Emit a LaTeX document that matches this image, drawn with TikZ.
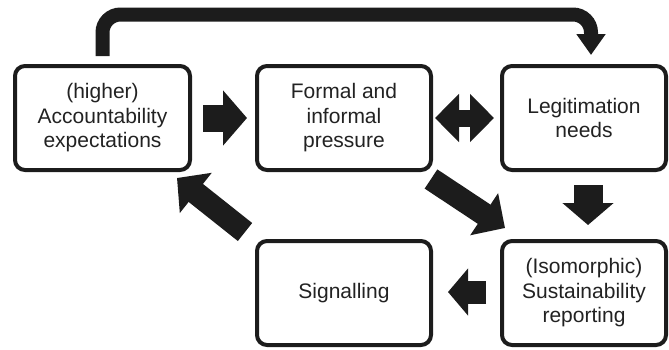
\documentclass[tikz,border=0pt]{standalone}
\usepackage{fontspec}
\setmainfont{Liberation Sans}
\usetikzlibrary{arrows.meta,calc}
\definecolor{ink}{HTML}{1C1C1C}
\definecolor{txt}{HTML}{222222}
\begin{document}
\begin{tikzpicture}[x=1pt,y=-1pt,
  box/.style={draw=ink, line width=4pt, rounded corners=10pt, align=center,
    font=\fontsize{21}{24.5}\selectfont, inner sep=0pt, text=txt},
  toprow/.style={minimum height=104pt},
  blk/.style n args={3}{draw=ink, line width=#1, -{Triangle[width=#2,length=#3]}},
  dblk/.style n args={3}{draw=ink, line width=#1, {Triangle[width=#2,length=#3]}-{Triangle[width=#2,length=#3]}},
  toparrow/.style={draw=ink, line width=14pt, rounded corners=18pt, -{Triangle[width=28pt,length=21pt]}}]
\useasboundingbox (0,0) rectangle (669,349);

\node[box, minimum width=175pt, minimum height=104pt] (b1) at (102.5,118) {(higher)\\Accountability\\expectations};
\node[box, minimum width=174pt, minimum height=104pt] (b2) at (344,118) {Formal and\\informal\\pressure};
\node[box, minimum width=164pt, minimum height=104pt] (b3) at (584,118) {Legitimation\\needs};
\node[box, minimum width=174pt, minimum height=104pt] (b4) at (344,293) {Signalling};
\node[box, minimum width=164pt, minimum height=104pt] (b5) at (584,293) {(Isomorphic)\\Sustainability\\reporting};

% top curved arrow
\draw[toparrow] ($(b1.north)+(0,-8)$) -- ($(b1.north)+(0,-49.5)$) -| ($(b3.north)+(7,-9)$);

% block arrows
\draw[blk={27pt}{54pt}{24pt}] ($(b1.east)+(11,0)$) -- ($(b2.west)+(-8,0)$);
\draw[dblk={17pt}{47pt}{24pt}] ($(b2.east)+(2,0)$) -- ($(b3.west)+(-6,0)$);
\draw[blk={29pt}{50pt}{22pt}] ($(b3.south)+(4,13)$) -- ($(b5.north)+(4,-14)$);
\draw[blk={23pt}{49pt}{25pt}] ($(b2.south east)+(-2,7)$) -- ($(b5.north west)+(5,-11)$);
\draw[blk={23pt}{46pt}{20pt}] ($(b5.west)+(-14,-1)$) -- ($(b4.east)+(15,-1)$);
\draw[blk={23pt}{50pt}{24pt}] ($(b4.north west)+(-10,-7)$) -- ($(b1.south east)+(-15,6)$);
\end{tikzpicture}
\end{document}
